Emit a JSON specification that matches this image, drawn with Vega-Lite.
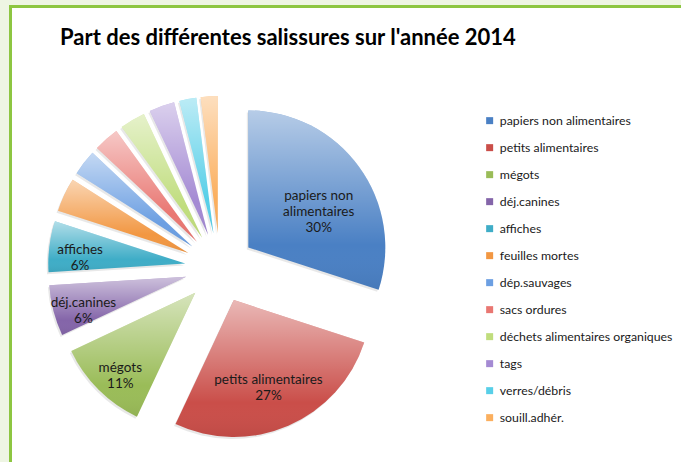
{
  "$schema": "https://vega.github.io/schema/vega-lite/v6.json",
  "autosize": "none",
  "width": 680,
  "height": 470,
  "padding": {"left": 10.5, "top": 6.5, "right": 0, "bottom": 0},
  "background": "#EEF5E3",
  "view": {"fill": "#FFFFFF", "stroke": "#8DC641", "strokeWidth": 3},
  "config": {
    "view": {"fill": "#FFFFFF", "stroke": "#8DC641", "strokeWidth": 3},
    "font": "Lato"
  },
  "title": {
    "text": "Part des différentes salissures sur l'année 2014",
    "anchor": "start",
    "frame": "group",
    "font": "Lato",
    "fontSize": 22,
    "fontWeight": "bold",
    "color": "#000000",
    "offset": 0,
    "baseline": "alphabetic",
    "dx": 49.5,
    "dy": 60
  },
  "data": {
    "values": [
      {"name": "papiers non alimentaires", "value": 30},
      {"name": "petits alimentaires", "value": 27},
      {"name": "mégots", "value": 11},
      {"name": "déj.canines", "value": 6},
      {"name": "affiches", "value": 6},
      {"name": "feuilles mortes", "value": 4},
      {"name": "dép.sauvages", "value": 3},
      {"name": "sacs ordures", "value": 3},
      {"name": "déchets alimentaires organiques", "value": 3},
      {"name": "tags", "value": 3},
      {"name": "verres/débris", "value": 2},
      {"name": "souill.adhér.", "value": 2}
    ]
  },
  "transform": [
    {"window": [{"op": "row_number", "as": "idx"}]},
    {
      "calculate": "datum.value < 6 ? '' : (datum.name == 'papiers non alimentaires' ? ['papiers non', 'alimentaires', datum.value + '%'] : [datum.name, datum.value + '%'])",
      "as": "lbl"
    }
  ],
  "encoding": {
    "theta": {"field": "value", "type": "quantitative", "stack": true},
    "order": {"field": "idx", "type": "quantitative"}
  },
  "layer": [
    {
      "mark": {
        "type": "arc",
        "x": 209.5,
        "y": 261.5,
        "outerRadius": 137,
        "fill": "#000000",
        "opacity": 0.09,
        "xOffset": {"expr": "35*sin(scale('theta',(datum.value_start+datum.value_end)/2)) - 1.5"},
        "yOffset": {"expr": "-35*cos(scale('theta',(datum.value_start+datum.value_end)/2)) + 2"}
      }
    },
    {
      "mark": {
        "type": "arc",
        "x": 209.5,
        "y": 261.5,
        "outerRadius": 137,
        "xOffset": {"expr": "35*sin(scale('theta',(datum.value_start+datum.value_end)/2))"},
        "yOffset": {"expr": "-35*cos(scale('theta',(datum.value_start+datum.value_end)/2))"}
      },
      "encoding": {
        "color": {
          "field": "name",
          "type": "nominal",
          "scale": {
            "domain": ["papiers non alimentaires", "petits alimentaires", "mégots", "déj.canines", "affiches", "feuilles mortes", "dép.sauvages", "sacs ordures", "déchets alimentaires organiques", "tags", "verres/débris", "souill.adhér."],
            "range": ["#4A80C4", "#CA4E49", "#9ABC58", "#8465A9", "#3FADC7", "#F29742", "#6C9FE2", "#E97772", "#C0DD7D", "#A48AD3", "#58CFE8", "#FBAF5E"]
          },
          "legend": {
            "orient": "none",
            "legendX": 473,
            "legendY": 108,
            "title": null,
            "symbolType": "square",
            "symbolSize": 49,
            "symbolStrokeWidth": 0,
            "labelFont": "Lato",
            "labelFontSize": 12.3,
            "labelColor": "#1a1a1a",
            "labelOffset": 4,
            "labelLimit": 300,
            "rowPadding": 14
          }
        }
      }
    },
    {
      "mark": {
        "type": "arc",
        "x": 209.5,
        "y": 261.5,
        "outerRadius": 137,
        "fill": {
          "gradient": "linear",
          "x1": 0, "y1": 0, "x2": 0, "y2": 1,
          "stops": [
            {"offset": 0, "color": "rgba(255,255,255,0.6)"},
            {"offset": 0.75, "color": "rgba(255,255,255,0)"},
            {"offset": 1, "color": "rgba(0,0,0,0.06)"}
          ]
        },
        "xOffset": {"expr": "35*sin(scale('theta',(datum.value_start+datum.value_end)/2))"},
        "yOffset": {"expr": "-35*cos(scale('theta',(datum.value_start+datum.value_end)/2))"}
      }
    },
    {
      "mark": {
        "type": "text",
        "x": 209.5,
        "y": 261.5,
        "radius": {"expr": "datum.value >= 20 ? 87 : 106"},
        "font": "Lato",
        "fontSize": 13.5,
        "lineHeight": 16,
        "color": "#1a1a1a",
        "align": "center",
        "baseline": "middle",
        "xOffset": {"expr": "35*sin(scale('theta',(datum.value_start+datum.value_end)/2))"},
        "yOffset": {"expr": "-35*cos(scale('theta',(datum.value_start+datum.value_end)/2))"}
      },
      "encoding": {
        "text": {"field": "lbl", "type": "nominal"}
      }
    }
  ]
}
